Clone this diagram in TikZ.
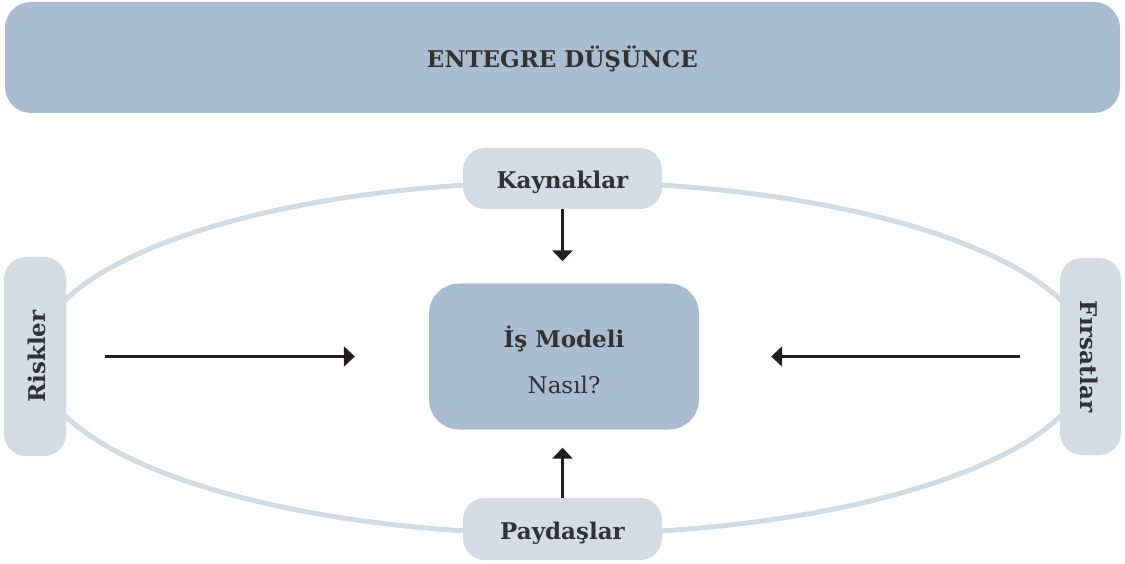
\documentclass[tikz,border=0pt]{standalone}
\usepackage{fontspec}
\setmainfont{DejaVu Serif}
\usetikzlibrary{arrows.meta}
\definecolor{darkbox}{HTML}{AABDD0}
\definecolor{lightbox}{HTML}{D1DCE5}
\definecolor{txt}{HTML}{333132}
\definecolor{arr}{HTML}{231F20}
\begin{document}
\begin{tikzpicture}[x=1pt,y=-1pt,
  lbl/.style={text=txt,font=\bfseries\fontsize{23}{27}\selectfont,text height=20pt,text depth=0pt},
  pill/.style={lbl,fill=lightbox,draw=none,rounded corners=22pt,inner sep=0pt},
  conn/.style={draw=arr,line width=3pt,-{Triangle[length=11pt,width=20pt]}}]
\useasboundingbox (0,0) rectangle (1125,564);
\node[fill=darkbox,rounded corners=26pt,minimum width=1115pt,minimum height=111pt,inner sep=0pt,lbl]
  (banner) at (562.5,57.5) {ENTEGRE DÜŞÜNCE};
\draw[lightbox,line width=5pt] (563,358) ellipse [x radius=527pt,y radius=176pt];
\node[pill,minimum width=199pt,minimum height=61pt] (kay) at (562.5,178.5) {Kaynaklar};
\node[pill,minimum width=199pt,minimum height=62pt] (pay) at (562.5,529) {Paydaşlar};
\node[pill,rotate=90,minimum width=199pt,minimum height=62pt] (risk) at (35,356.5) {Riskler};
\node[pill,rotate=-90,minimum width=197pt,minimum height=61pt] (firs) at (1090.5,356.5) {Fırsatlar};
\node[fill=darkbox,rounded corners=30pt,minimum width=270pt,minimum height=146pt,inner sep=0pt]
  (model) at (564,356.5) {};
\node[lbl,anchor=base] (is) at (564,347) {İş Modeli};
\node[text=txt,font=\fontsize{23}{27}\selectfont,anchor=base] (nasil) at (564,393) {Nasıl?};
\draw[conn,shorten >=22pt] (kay.south) -- (kay.south |- model.north);
\draw[conn,shorten >=18pt] (pay.north) -- (pay.north |- model.south);
\draw[conn,shorten <=39pt,shorten >=74pt] (risk.south) -- (model.west);
\draw[conn,shorten <=40pt,shorten >=72pt] (firs.south) -- (model.east);
\end{tikzpicture}
\end{document}
